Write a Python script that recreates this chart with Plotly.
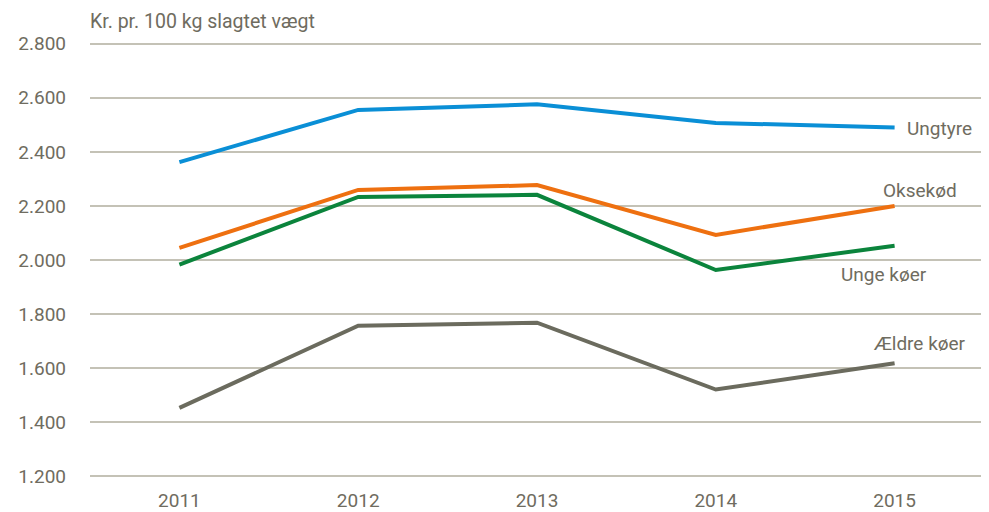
import plotly.graph_objects as go

years = [2011, 2012, 2013, 2014, 2015]
ungtyre = [2362, 2555, 2576, 2507, 2490]
oksekod = [2045, 2259, 2277, 2093, 2200]
unge_koer = [1983, 2233, 2241, 1963, 2053]
aeldre_koer = [1453, 1757, 1768, 1521, 1618]
yticks = [1200, 1400, 1600, 1800, 2000, 2200, 2400, 2600, 2800]
ytick_text = ["1.200", "1.400", "1.600", "1.800", "2.000", "2.200", "2.400", "2.600", "2.800"]

FONT = "Liberation Sans Narrow, Arial Narrow, Roboto, sans-serif"
TXT = "#6f6c60"
GRID = "#c4c2b6"

series = [
    ("Ungtyre", ungtyre, "#0a8fd6"),
    ("Oksekød", oksekod, "#ee7010"),
    ("Unge køer", unge_koer, "#0b843c"),
    ("Ældre køer", aeldre_koer, "#6b6b5e"),
]

fig = go.Figure()
for name, vals, col in series:
    fig.add_trace(go.Scatter(x=years, y=vals, name=name, mode="lines",
                             line=dict(color=col, width=4), showlegend=False))

label_pos = {
    "Ungtyre": (2015, ungtyre[-1], 10, -1, "left"),
    "Oksekød": (2015, oksekod[-1], 25, 15, "center"),
    "Unge køer": (2015, unge_koer[-1], -11, -29, "center"),
    "Ældre køer": (2015, aeldre_koer[-1], 25, 20, "center"),
}
for name, (x, y, xs, ys, anc) in label_pos.items():
    fig.add_annotation(x=x, y=y, text=name, showarrow=False, xanchor=anc,
                       xshift=xs, yshift=ys,
                       font=dict(family=FONT, size=19, color=TXT))

fig.add_annotation(xref="paper", yref="paper", x=0, y=1, xanchor="left",
                   yanchor="bottom", yshift=6, xshift=-2,
                   text="Kr. pr. 100 kg slagtet vægt",
                   showarrow=False, font=dict(family=FONT, size=19.5, color=TXT))

fig.update_layout(
    width=981, height=504,
    margin=dict(l=82, r=5, t=33, b=33),
    paper_bgcolor="white", plot_bgcolor="white",
    font=dict(family=FONT, size=19, color=TXT),
    xaxis=dict(range=[2010.5, 2015.5], tickvals=years, ticktext=[str(y) for y in years],
               showgrid=False, zeroline=False, showline=False, ticks="",
               ticklabelstandoff=8, automargin=False,
               tickfont=dict(family=FONT, size=19, color=TXT)),
    yaxis=dict(range=[1190, 2810], tickvals=yticks, ticktext=ytick_text,
               showgrid=True, gridcolor=GRID, gridwidth=1.5, zeroline=False,
               showline=False, ticks="", ticklabelstandoff=23, automargin=False,
               tickfont=dict(family=FONT, size=19, color=TXT)),
)

fig.write_html("out.html")
